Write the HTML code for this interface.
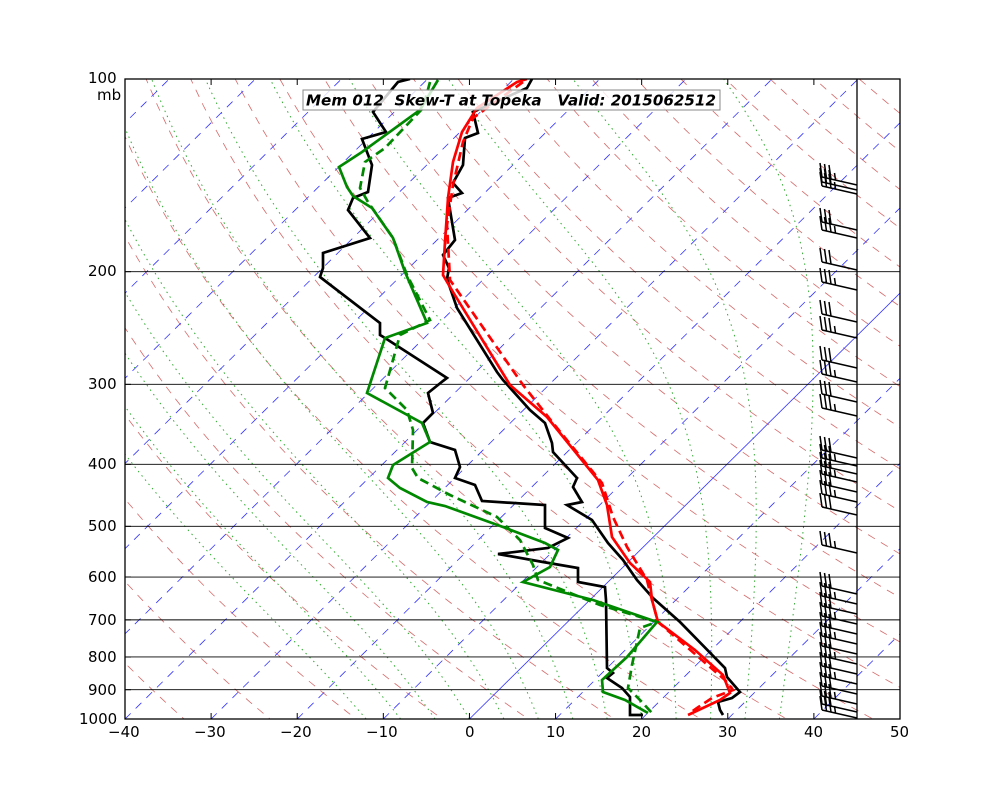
<!DOCTYPE html>
<html><head><meta charset="utf-8"><style>
html,body{margin:0;padding:0;background:#fff;width:1000px;height:800px;overflow:hidden}
.t{position:absolute;font-family:"DejaVu Sans","Liberation Sans",sans-serif;font-size:15px;color:#000}
</style></head><body>
<svg id="s" width="1000" height="800" style="position:absolute;left:0;top:0">
<defs><clipPath id="c"><rect x="125" y="79" width="775" height="640"/></clipPath></defs>
<g id="grid" clip-path="url(#c)"></g>
<g id="data" clip-path="url(#c)" fill="none" stroke-width="2.7" stroke-linejoin="miter"></g>
<g id="barbs" stroke="#000" stroke-width="1.5" fill="none"></g>
<line x1="857" y1="79" x2="857" y2="719" stroke="#000" stroke-width="1.3"/>
<rect x="125" y="79" width="775" height="640" fill="none" stroke="#000" stroke-width="1.3"/>
<g id="ticks" stroke="#000" stroke-width="1"></g>
<rect x="303" y="90" width="417" height="20" fill="#fff" fill-opacity="0.8" stroke="#888" stroke-width="1"/>
<text x="306" y="105.5" font-family="DejaVu Sans, Liberation Sans, sans-serif" font-size="15" font-weight="bold" font-style="italic" xml:space="preserve" textLength="410" lengthAdjust="spacingAndGlyphs">Mem 012  Skew-T at Topeka   Valid: 2015062512</text>
</svg>
<div class="t" style="left:88px;top:69px">100</div>
<div class="t" style="left:97px;top:86px">mb</div>
<div class="t" style="left:88px;top:262px">200</div>
<div class="t" style="left:88px;top:375px">300</div>
<div class="t" style="left:88px;top:455px">400</div>
<div class="t" style="left:88px;top:517px">500</div>
<div class="t" style="left:88px;top:568px">600</div>
<div class="t" style="left:88px;top:611px">700</div>
<div class="t" style="left:88px;top:648px">800</div>
<div class="t" style="left:88px;top:681px">900</div>
<div class="t" style="left:79px;top:710px">1000</div>
<div class="t" style="left:108px;top:723px">−40</div>
<div class="t" style="left:194px;top:723px">−30</div>
<div class="t" style="left:280px;top:723px">−20</div>
<div class="t" style="left:366px;top:723px">−10</div>
<div class="t" style="left:465px;top:723px">0</div>
<div class="t" style="left:546px;top:723px">10</div>
<div class="t" style="left:632px;top:723px">20</div>
<div class="t" style="left:718px;top:723px">30</div>
<div class="t" style="left:804px;top:723px">40</div>
<div class="t" style="left:890px;top:723px">50</div>
<script>
var NS="http://www.w3.org/2000/svg";
function Y(p){return 79+640*Math.log10(p/100);}
function X(T,y){return 125+(T+40)*8.611+(719-y)*1.011;}
function el(par,tag,a){var e=document.createElementNS(NS,tag);for(var k in a)e.setAttribute(k,a[k]);par.appendChild(e);return e;}
var g=document.getElementById('grid');
function poly(par,pts,a){a.points=pts.map(function(q){return q[0].toFixed(1)+','+q[1].toFixed(1)}).join(' ');a.fill='none';return el(par,'polyline',a);}
for(var th=230;th<=480;th+=10){var pts=[];for(var p=1050;p>=95;p-=10){var T=th*Math.pow(p/1000,0.286)-273.15;var y=Y(p);pts.push([X(T,y),y]);}
poly(g,pts,{stroke:'#c44',"stroke-width":0.8,"stroke-dasharray":"8,7",opacity:0.8});}
function es(T){return 6.112*Math.exp(17.67*T/(T+243.5));}
for(var T0=-12;T0<=36;T0+=4){var T=T0+273.15,pts=[];for(var p=1000;p>=100;p-=5){var y=Y(p);pts.push([X(T-273.15,y),y]);
var rs=0.622*es(T-273.15)/(p-es(T-273.15));var Lv=2.5e6,Rd=287,cp=1004;
var dTdp=(Rd*T+Lv*rs)/(cp+Lv*Lv*rs*0.622/(Rd*T*T))/p;T-=dTdp*5;}
poly(g,pts,{stroke:'#3a3',"stroke-width":1,"stroke-dasharray":"1.5,4"});}
for(var t=-120;t<=50;t+=10){var a={x1:X(t,719),y1:719,x2:X(t,79),y2:79,stroke:'#33f',"stroke-width":0.8};if(t!=0)a["stroke-dasharray"]="8,7";el(g,'line',a);}
[200,300,400,500,600,700,800,900].forEach(function(p){el(g,'line',{x1:125,x2:900,y1:Y(p),y2:Y(p),stroke:'#000',"stroke-width":0.9});});
var tk=document.getElementById('ticks');
for(var t=-40;t<=50;t+=10){var x=125+(t+40)*8.611;el(tk,'line',{x1:x,x2:x,y1:719,y2:713});el(tk,'line',{x1:x,x2:x,y1:79,y2:85});}
[100,200,300,400,500,600,700,800,900,1000].forEach(function(p){el(tk,'line',{x1:125,x2:131,y1:Y(p),y2:Y(p)});});
var d=document.getElementById('data');
function L(s,c,dash){var a={stroke:c};if(dash)a["stroke-dasharray"]="9,5";poly(d,s,a);}
L([[532,79],[527,88],[473,112],[478,133],[465,138],[463,165],[453,183],[462,193],[448,198],[455,240],[443,255],[449,268],[447,279],[457,308],[497,372],[503,380],[530,410],[545,423],[552,443],[553,452],[577,478],[573,487],[582,502],[567,505],[592,520],[608,543],[623,560],[637,580],[653,598],[680,622],[725,668],[727,677],[740,692],[732,698],[718,702],[720,710],[723,715]],'#000');
L([[410,79],[398,82],[373,112],[386,132],[362,139],[372,165],[368,192],[353,198],[348,210],[370,238],[323,253],[323,268],[320,277],[380,323],[380,335],[385,338],[447,378],[443,381],[428,393],[433,413],[423,423],[430,442],[455,450],[460,467],[455,478],[475,485],[482,501],[545,505],[545,528],[568,538],[548,548],[498,554],[543,562],[578,568],[578,582],[605,587],[606,600],[607,668],[613,673],[607,678],[622,688],[630,697],[630,715],[643,715]],'#000');
L([[527,79],[517,82],[477,108],[462,132],[453,162],[448,198],[445,242],[443,275],[453,292],[510,385],[547,417],[598,480],[607,505],[612,537],[630,563],[650,582],[652,600],[658,622],[695,650],[723,675],[730,693],[720,700],[688,715]],'#f00');
L([[523,82],[473,118],[463,142],[453,185],[447,225],[450,280],[523,385],[553,423],[602,483],[613,517],[627,547],[647,580],[652,600],[658,622],[725,680],[733,690],[712,698],[697,708],[690,713]],'#f00',1);
L([[438,80],[420,110],[362,152],[339,167],[347,187],[353,196],[372,208],[393,238],[405,272],[427,323],[385,338],[367,393],[422,423],[430,442],[393,465],[388,478],[400,488],[427,502],[445,506],[503,527],[545,543],[558,550],[550,567],[523,582],[593,600],[657,622],[627,657],[602,680],[603,692],[625,700],[648,713]],'#080');
L([[430,82],[423,108],[385,148],[365,162],[360,188],[368,202],[393,238],[407,275],[430,320],[400,335],[385,388],[407,410],[413,430],[412,468],[418,478],[450,495],[497,517],[520,540],[533,565],[538,580],[600,605],[657,622],[640,628],[632,665],[628,688],[640,700],[652,713]],'#080',1);
var b=document.getElementById('barbs');
[185,190,194,230,238,270,290,322,338,368,382,402,416,458,466,474,482,492,502,515,553,594,604,614,624,634,644,654,664,674,684,694,704,712,718].forEach(function(y,i){
var x0=857,x1=822,y1=y-8;el(b,'line',{x1:x0,y1:y,x2:x1,y2:y1});
for(var k=0;k<3;k++){var bx=x1+k*4.5,by=y1+k*1.0;el(b,'line',{x1:bx,y1:by,x2:bx-2,y2:by-14});}
if(i%2==0){var bx=x1+13.5,by=y1+3;el(b,'line',{x1:bx,y1:by,x2:bx-1,y2:by-7});}
});
</script>
</body></html>
